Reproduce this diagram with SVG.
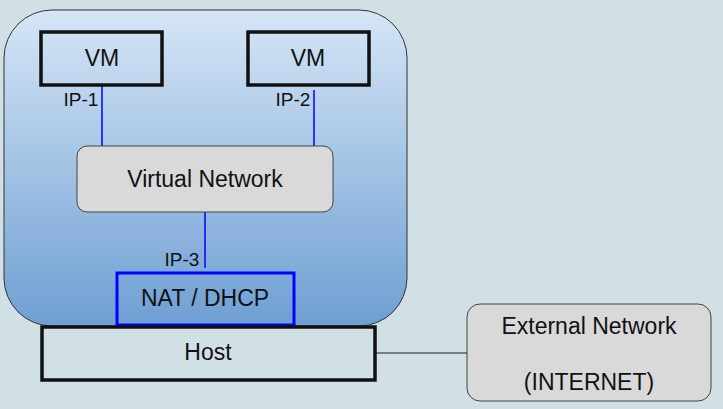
<svg xmlns="http://www.w3.org/2000/svg" width="723" height="409" viewBox="0 0 723 409">
<defs>
<linearGradient id="g" x1="0" y1="0" x2="0" y2="1">
<stop offset="0" stop-color="#d6e6f6"/>
<stop offset="1" stop-color="#6e9fd3"/>
</linearGradient>
<style>
text{font-family:"Liberation Sans",Arial,sans-serif;font-size:23px;fill:#111;text-anchor:middle}
.ip{font-size:19px}
.box{fill:none;stroke:#111;stroke-width:3.5}
.rnd{fill:#d9d9d9;stroke:#444;stroke-width:1}
.bl{stroke:#0000ff;stroke-width:1.5;fill:none}
</style>
</defs>
<rect width="723" height="409" fill="#d1e0e4"/>
<g id="container">
<rect x="4" y="10" width="403" height="316" rx="48" ry="48" fill="url(#g)" stroke="#333" stroke-width="1"/>
</g>
<g id="connectors">
<line class="bl" x1="102" y1="85" x2="102" y2="146"/>
<line class="bl" x1="314" y1="90" x2="314" y2="146"/>
<line class="bl" x1="205" y1="212" x2="205" y2="268"/>
<line x1="376" y1="353" x2="467" y2="353" stroke="#222" stroke-width="1"/>
<text class="ip" x="81" y="106">IP-1</text>
<text class="ip" x="293" y="106">IP-2</text>
<text class="ip" x="182" y="266">IP-3</text>
</g>
<g id="vm1">
<rect class="box" x="41" y="32" width="121" height="53"/>
<text x="102" y="66">VM</text>
</g>
<g id="vm2">
<rect class="box" x="248" y="32" width="121" height="53"/>
<text x="308" y="66">VM</text>
</g>
<g id="vnet">
<rect class="rnd" x="77" y="146" width="256" height="66" rx="10" ry="10"/>
<text x="205" y="187">Virtual Network</text>
</g>
<g id="nat">
<rect x="117" y="273" width="177" height="52" fill="none" stroke="#0000ff" stroke-width="3"/>
<text x="205" y="306">NAT / DHCP</text>
</g>
<g id="host">
<rect class="box" x="42" y="327" width="333" height="53" fill="#d1e0e4"/>
<text x="208" y="360">Host</text>
</g>
<g id="external">
<rect class="rnd" x="467" y="304" width="244" height="97" rx="13" ry="13"/>
<text x="589" y="334">External Network</text>
<text x="589" y="390">(INTERNET)</text>
</g>
</svg>
